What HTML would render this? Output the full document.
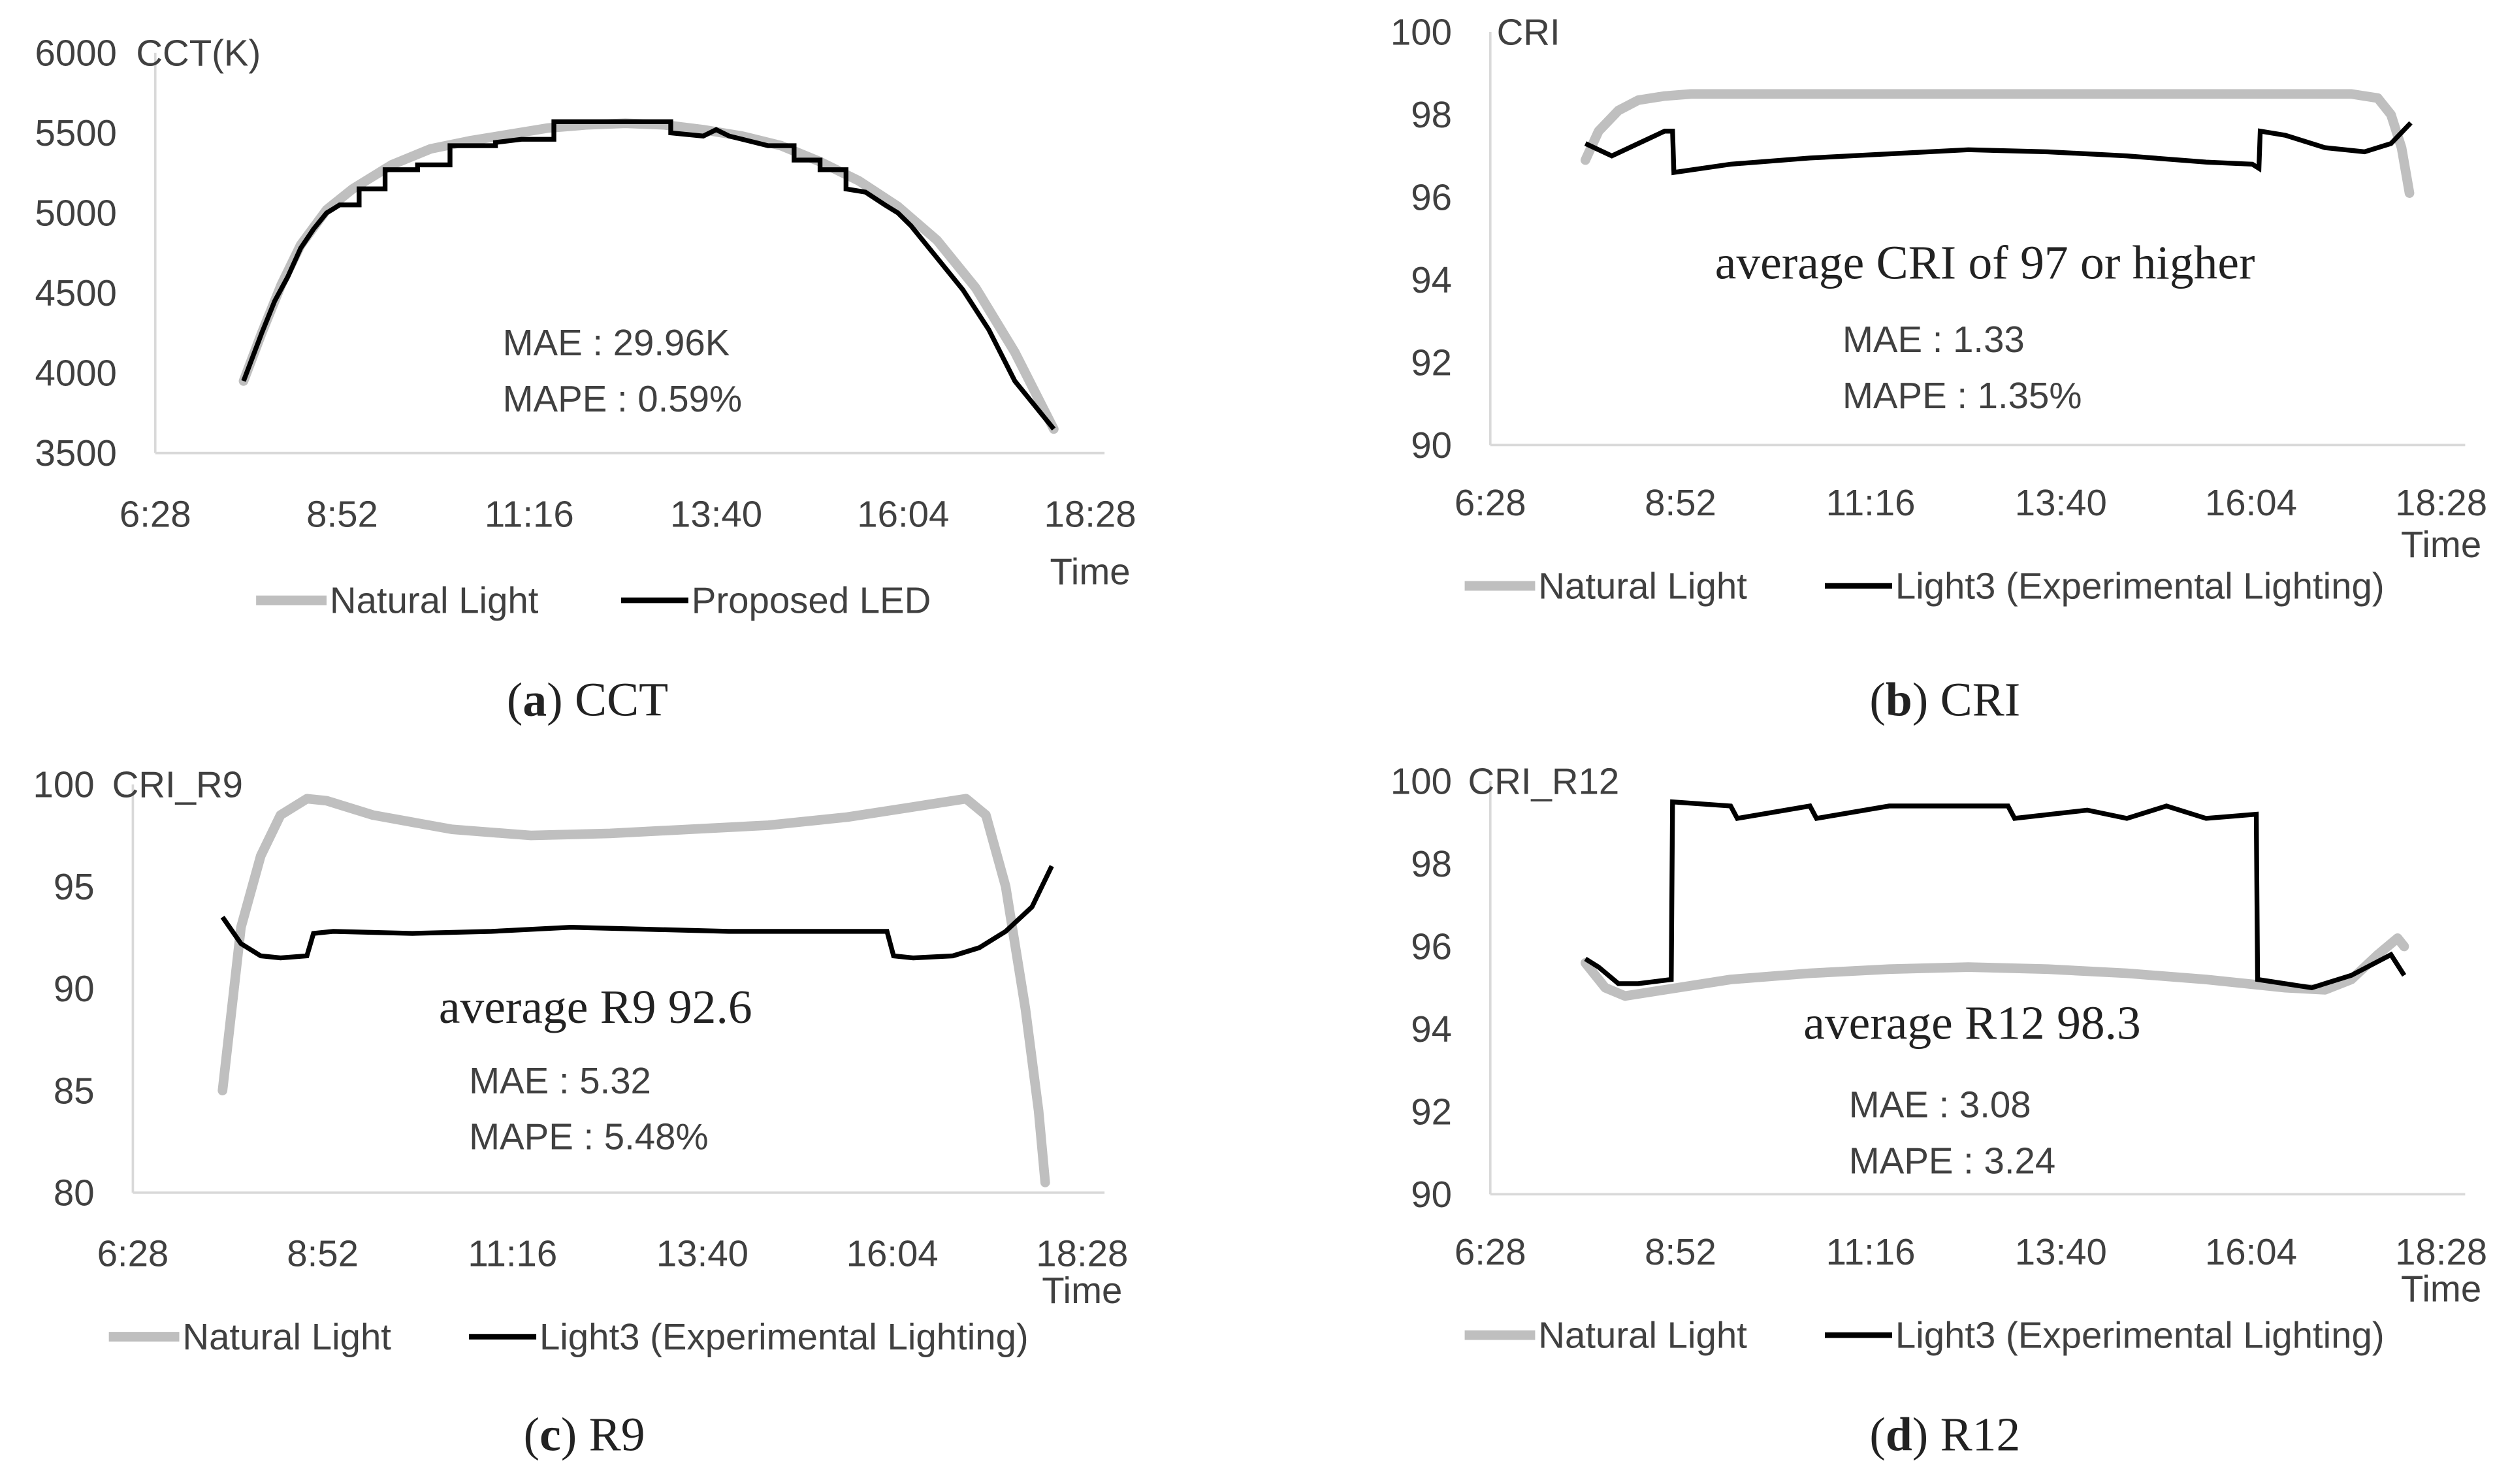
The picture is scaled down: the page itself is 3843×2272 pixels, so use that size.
<!DOCTYPE html>
<html><head><meta charset="utf-8"><style>
html,body{margin:0;padding:0;background:#fff;}
svg{display:block;}
.t{font-family:"Liberation Sans",sans-serif;font-size:23px;fill:#404040;}
.s{font-family:"Liberation Serif",serif;fill:#222;}
</style></head><body>
<svg id="fig" width="3843" height="2272" viewBox="0 0 1568 927" xmlns="http://www.w3.org/2000/svg"></svg>
<script>
// ---- data ----
const xTickLabels = ["6:28","8:52","11:16","13:40","16:04","18:28"];
const cctTicks = [3500,4000,4500,5000,5500,6000];
const criTicks = [90,92,94,96,98,100];
const r9Ticks = [80,85,90,95,100];
const r12Ticks = [90,92,94,96,98,100];

const cctNatT = ["7:36","7:50","8:05","8:20","8:40","9:00","9:30","10:00","10:30","11:00","11:30","12:00","12:30","13:00","13:30","14:00","14:30","15:00","15:30","16:00","16:30","17:00","17:30","18:00"];
const cctNatV = [3950,4250,4550,4800,5020,5150,5300,5400,5450,5490,5530,5550,5560,5550,5520,5480,5420,5320,5200,5040,4830,4530,4130,3650];
const cctLedT = ["7:36","7:50","8:00","8:10","8:20","8:30","8:40","8:50","9:05","9:05","9:25","9:25","9:50","9:50","10:15","10:15","10:50","10:50","11:10","11:35","11:35","12:30","13:05","13:05","13:30","13:40","13:50","14:00","14:20","14:40","14:40","15:00","15:00","15:20","15:20","15:35","15:50","16:00","16:10","16:30","16:50","17:10","17:30","17:45","18:00"];
const cctLedV = [3950,4250,4450,4600,4780,4900,5000,5050,5050,5150,5150,5270,5270,5300,5300,5420,5420,5440,5460,5460,5570,5570,5570,5500,5480,5520,5480,5460,5420,5420,5330,5330,5270,5270,5150,5130,5050,5000,4920,4720,4520,4270,3950,3800,3650];

const criNatT = ["7:40","7:50","8:05","8:20","8:40","9:00","12:00","16:00","17:20","17:40","17:50","17:58","18:04"];
const criNatV = [96.9,97.6,98.1,98.35,98.45,98.5,98.5,98.5,98.5,98.4,98.0,97.2,96.1];
const criLedT = ["7:40","8:00","8:20","8:40","8:46","8:47","9:30","10:30","11:30","12:30","13:30","14:30","15:30","16:05","16:10","16:11","16:30","17:00","17:30","17:50","18:05"];
const criLedV = [97.3,97.0,97.3,97.6,97.6,96.6,96.8,96.95,97.05,97.15,97.1,97.0,96.85,96.8,96.7,97.6,97.5,97.2,97.1,97.3,97.8];

const r9NatT = ["7:36","7:50","8:05","8:20","8:40","8:55","9:30","10:30","11:30","12:30","13:30","14:30","15:30","16:30","17:00","17:15","17:30","17:45","17:55","18:00"];
const r9NatV = [85,93,96.5,98.5,99.3,99.2,98.5,97.8,97.5,97.6,97.8,98.0,98.4,99.0,99.3,98.5,95,89,84,80.5];
const r9LedT = ["7:36","7:50","8:05","8:20","8:40","8:45","9:00","10:00","11:00","12:00","13:00","14:00","15:00","16:00","16:05","16:20","16:50","17:10","17:30","17:50","18:05"];
const r9LedV = [93.5,92.2,91.6,91.5,91.6,92.7,92.8,92.7,92.8,93.0,92.9,92.8,92.8,92.8,91.6,91.5,91.6,92.0,92.8,94.0,96.0];

const r12NatT = ["7:40","7:55","8:10","8:40","9:30","10:30","11:30","12:30","13:30","14:30","15:30","16:30","17:00","17:20","17:40","17:55","18:00"];
const r12NatV = [95.6,95.0,94.8,94.95,95.2,95.35,95.45,95.5,95.45,95.35,95.2,95.0,94.95,95.2,95.8,96.2,96.0];
const r12LedT = ["7:40","7:50","8:05","8:20","8:45","8:46","9:30","9:35","10:30","10:35","11:30","12:30","13:00","13:05","14:00","14:30","15:00","15:30","16:08","16:09","16:50","17:20","17:50","18:00"];
const r12LedV = [95.7,95.5,95.1,95.1,95.2,99.5,99.4,99.1,99.4,99.1,99.4,99.4,99.4,99.1,99.3,99.1,99.4,99.1,99.2,95.2,95.0,95.3,95.8,95.3];

// ---- drawing ----
const NS="http://www.w3.org/2000/svg";
const svg=document.getElementById('fig');
function mk(tag,attrs,parent){const e=document.createElementNS(NS,tag);for(const k in attrs)e.setAttribute(k,attrs[k]);(parent||svg).appendChild(e);return e;}
function mins(s){const p=s.split(':');return +p[0]*60+ +p[1];}
function text(str,x,y,cls,extra,parent){const e=mk('text',Object.assign({x:x,y:y,class:cls},extra||{}),parent);e.textContent=str;return e;}

function chart(cfg){
  const g=mk('g',{});
  
  
  const t0=mins("6:28"),t1=mins("18:28");
  const xs=t=>cfg.x0+(mins(t)-t0)/(t1-t0)*(cfg.x1-cfg.x0);
  const ys=v=>cfg.yB+(v-cfg.ticks[0])/(cfg.ticks[cfg.ticks.length-1]-cfg.ticks[0])*(cfg.yT-cfg.yB);
  const ax=mk('line',{x1:cfg.x0,y1:cfg.yT,x2:cfg.x0,y2:cfg.yB,stroke:'#d9d9d9','stroke-width':1.5},g);
  
  const bx=mk('line',{x1:cfg.x0,y1:cfg.yB,x2:cfg.xEnd,y2:cfg.yB,stroke:'#d9d9d9','stroke-width':1.5},g);
  
  cfg.ticks.forEach(v=>{const e=text(String(v),cfg.x0-24,ys(v)+8,'t',{'text-anchor':'end'},g);
    });
  xTickLabels.forEach(l=>{const e=text(l,xs(l),cfg.xlY,'t',{'text-anchor':'middle'},g);
    });
  const yt=text(cfg.ytitle,cfg.x0-28+cfg.ytOff,ys(cfg.ticks[cfg.ticks.length-1])+8,'t',{},g);
  
  const tt=text('Time',xs("18:28"),cfg.timeY,'t',{'text-anchor':'middle'},g);
  
  const p1=mk('polyline',{points:cfg.natT.map((t,i)=>xs(t)+','+ys(cfg.natV[i])).join(' '),fill:'none',stroke:'#bfbfbf','stroke-width':6,'stroke-linejoin':'round','stroke-linecap':'round'},g);
  
  const p2=mk('polyline',{points:cfg.ledT.map((t,i)=>xs(t)+','+ys(cfg.ledV[i])).join(' '),fill:'none',stroke:'#000','stroke-width':3,'stroke-linejoin':'miter'},g);
  
  // legend
  const lg=mk('g',{},g);
  const L=cfg.leg;
  mk('line',{x1:L.g0,y1:L.y,x2:L.g0+44,y2:L.y,stroke:'#bfbfbf','stroke-width':6},lg);
  const e1=text('Natural Light',L.g0+46,L.y+8,'t',{},lg);
  mk('line',{x1:L.b0,y1:L.y,x2:L.b0+42,y2:L.y,stroke:'#000','stroke-width':3.5},lg);
  const e2=text(cfg.ledName,L.b0+44,L.y+8,'t',{},lg);
  // annotations
  if(cfg.avg){const a=text(cfg.avg[0],cfg.avg[1],cfg.avg[2],'s',{'text-anchor':'middle','font-size':30,fill:'#333'},g);
    }
  const m1=text(cfg.mae[0],cfg.mae[1],cfg.mae[2],'t',{},g);
  const m2=text(cfg.mape,cfg.mae[1],cfg.mae[2]+35,'t',{},g);
  const cap=mk('text',{x:cfg.cap[0],y:cfg.cap[1],class:'s','font-size':30,'text-anchor':'middle'},g);
  
  cap.innerHTML='(<tspan font-weight="bold">'+cfg.cap[2]+'</tspan>) '+cfg.cap[3];
}

chart({name:'chart-cct',x0:97,x1:681,xEnd:690,yT:33,yB:283,ticks:cctTicks,ytitle:'CCT(K)',ytOff:16,xlY:329,timeY:365,
  natT:cctNatT,natV:cctNatV,ledT:cctLedT,ledV:cctLedV,ledName:'Proposed LED',
  leg:{y:375,g0:160,b0:388},mae:['MAE : 29.96K',314,222],mape:'MAPE : 0.59%',cap:[367,447,'a','CCT']});
chart({name:'chart-cri',x0:931,x1:1525,xEnd:1540,yT:20,yB:278,ticks:criTicks,ytitle:'CRI',ytOff:32,xlY:322,timeY:348,
  natT:criNatT,natV:criNatV,ledT:criLedT,ledV:criLedV,ledName:'Light3 (Experimental Lighting)',
  leg:{y:366,g0:915,b0:1140},avg:['average CRI of 97 or higher',1240,174],mae:['MAE : 1.33',1151,220],mape:'MAPE : 1.35%',cap:[1215,447,'b','CRI']});
chart({name:'chart-r9',x0:83,x1:676,xEnd:690,yT:490,yB:745,ticks:r9Ticks,ytitle:'CRI_R9',ytOff:15,xlY:791,timeY:814,
  natT:r9NatT,natV:r9NatV,ledT:r9LedT,ledV:r9LedV,ledName:'Light3 (Experimental Lighting)',
  leg:{y:835,g0:68,b0:293},avg:['average R9 92.6',372,639],mae:['MAE : 5.32',293,683],mape:'MAPE : 5.48%',cap:[365,906,'c','R9']});
chart({name:'chart-r12',x0:931,x1:1525,xEnd:1540,yT:488,yB:746,ticks:r12Ticks,ytitle:'CRI_R12',ytOff:14,xlY:790,timeY:813,
  natT:r12NatT,natV:r12NatV,ledT:r12LedT,ledV:r12LedV,ledName:'Light3 (Experimental Lighting)',
  leg:{y:834,g0:915,b0:1140},avg:['average R12 98.3',1232,649],mae:['MAE : 3.08',1155,698],mape:'MAPE : 3.24',cap:[1215,906,'d','R12']});
</script>
</body></html>
